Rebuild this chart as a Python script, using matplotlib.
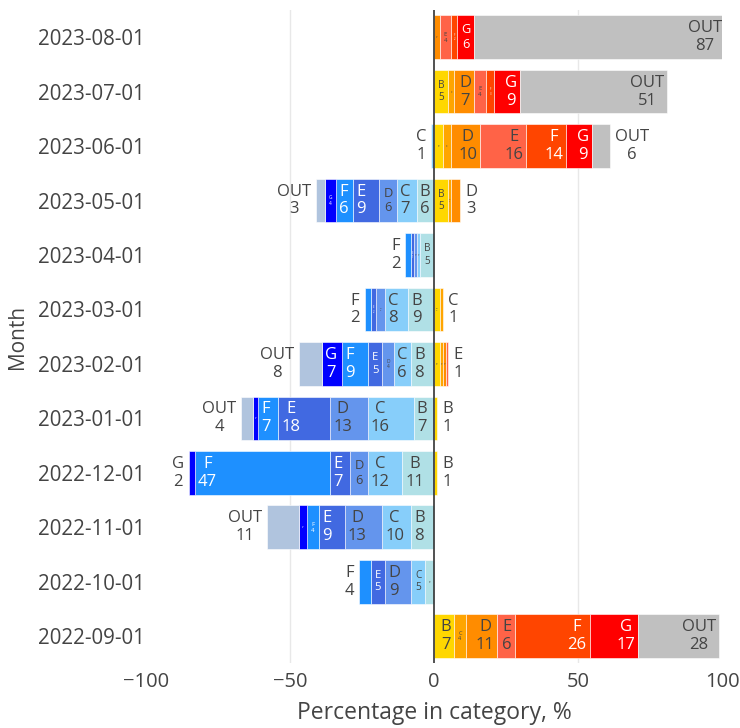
import matplotlib
matplotlib.use("Agg")
import matplotlib.pyplot as plt
import matplotlib.colors as mcolors

# ---------------- data ----------------
months = ["2022-09-01", "2022-10-01", "2022-11-01", "2022-12-01",
          "2023-01-01", "2023-02-01", "2023-03-01", "2023-04-01",
          "2023-05-01", "2023-06-01", "2023-07-01", "2023-08-01"]
categories = ["B", "C", "D", "E", "F", "G", "OUT"]

# positive side (right of zero)
pos_B   = [7, 0, 0, 1, 1, 2, 2, 0, 5, 3, 5, 0]
pos_C   = [4, 0, 0, 0, 0, 1, 1, 0, 1, 3, 2, 0]
pos_D   = [11, 0, 0, 0, 0, 1, 0, 0, 3, 10, 7, 2]
pos_E   = [6, 0, 0, 0, 0, 1, 0, 0, 0, 16, 4, 4]
pos_F   = [26, 0, 0, 0, 0, 0, 0, 0, 0, 14, 3, 2]
pos_G   = [17, 0, 0, 0, 0, 0, 0, 0, 0, 9, 9, 6]
pos_OUT = [28, 0, 0, 0, 0, 0, 0, 0, 0, 6, 51, 87]

# negative side (left of zero), magnitudes
neg_B   = [0, 3, 8, 11, 7, 8, 9, 5, 6, 0, 0, 0]
neg_C   = [0, 5, 10, 12, 16, 6, 8, 1, 7, 1, 0, 0]
neg_D   = [0, 9, 13, 6, 13, 4, 3, 1, 6, 0, 0, 0]
neg_E   = [0, 5, 9, 7, 18, 5, 2, 1, 9, 0, 0, 0]
neg_F   = [0, 4, 4, 47, 7, 9, 2, 2, 6, 0, 0, 0]
neg_G   = [0, 0, 3, 2, 2, 7, 0, 0, 4, 0, 0, 0]
neg_OUT = [0, 0, 11, 0, 4, 8, 0, 0, 3, 0, 0, 0]

pos_series = [pos_B, pos_C, pos_D, pos_E, pos_F, pos_G, pos_OUT]
neg_series = [neg_B, neg_C, neg_D, neg_E, neg_F, neg_G, neg_OUT]

pos_colors = ["#FFD700", "#FFA500", "#FF8C00", "#FF6347", "#FF4500", "#FF0000", "#C0C0C0"]
neg_colors = ["#B0E0E6", "#87CEFA", "#6495ED", "#4169E1", "#1E90FF", "#0000FF", "#B0C4DE"]

x_ticks = [-100, -50, 0, 50, 100]

# ---------------- style ----------------
FONT = "Open Sans"
plt.rcParams["font.family"] = [FONT, "DejaVu Sans"]
TXT = "#444444"
BASE = 12.0      # bar text size (pt)
PAD = 3.0        # px, placement padding
FIT_PAD = 4.0    # px, padding used when shrinking text
BAR_H = 0.8

W, H = 740, 728
fig = plt.figure(figsize=(W / 100, H / 100), dpi=100)
L, R, T, B = 146, 722, 10, 663.4
ax = fig.add_axes([L / W, (H - B) / H, (R - L) / W, (B - T) / H])
ax.set_xlim(-100, 100)
ax.set_ylim(-0.5, len(months) - 0.5)

for s in ax.spines.values():
    s.set_visible(False)
ax.set_xticks(x_ticks)
ax.set_xticklabels([f"{t}".replace("-", "\u2212") for t in x_ticks])
ax.set_yticks(range(len(months)))
ax.set_yticklabels(months)
ax.tick_params(axis="x", length=0, pad=6, labelsize=14.5, labelcolor=TXT)
ax.tick_params(axis="y", length=0, pad=1, labelsize=14.8, labelcolor=TXT)
for gx in x_ticks[1:-1]:
    if gx != 0:
        ax.axvline(gx, color="#E8E8E8", linewidth=1, zorder=0)
ax.set_xlabel("Percentage in category, %", fontsize=16.5, color=TXT, labelpad=7)
ax.set_ylabel("Month", fontsize=15, color=TXT, labelpad=7)

renderer = fig.canvas.get_renderer()
px_unit = ax.transData.transform((1, 0))[0] - ax.transData.transform((0, 0))[0]
bar_px = BAR_H * (ax.transData.transform((0, 1))[1] - ax.transData.transform((0, 0))[1])


def is_light(c):
    r, g, b = [v * 255 for v in mcolors.to_rgb(c)]
    return (r * 299 + g * 587 + b * 114) / 1000 > 128


def draw_side(series, colors, sign):
    for i in range(len(months)):
        vals = [s[i] for s in series]
        nz = [k for k, v in enumerate(vals) if v > 0]
        if not nz:
            continue
        outer = nz[-1]
        cum = 0
        for k in nz:
            v = vals[k]
            start = sign * cum
            ax.barh(i, sign * v, left=start, height=BAR_H, color=colors[k],
                    edgecolor="white", linewidth=0.4, zorder=2)
            end = sign * (cum + v)
            cum += v
            label = f"{categories[k]}\n{v}"
            t = ax.text(0, i, label, fontsize=BASE, ha="center", va="center",
                        multialignment="center", linespacing=1.15, zorder=4)
            bb = t.get_window_extent(renderer)
            tw, th = bb.width, bb.height
            t.remove()
            seg_px = v * px_unit
            availw = seg_px - 2 * PAD
            availh = bar_px - 2 * PAD
            fits = tw <= availw and th <= availh
            shrink_h = min(1.0, availh / th)
            fits_shrunk = tw * shrink_h <= availw
            if k == outer and not (fits or fits_shrunk):
                # outside the bar end
                ax.annotate(label, xy=(end, i), xytext=(sign * 5, 0),
                            textcoords="offset pixels",
                            ha="left" if sign > 0 else "right", va="center",
                            multialignment="center", linespacing=1.15,
                            fontsize=BASE, color=TXT, zorder=4,
                            annotation_clip=False)
            else:
                if fits or fits_shrunk:
                    sc = min(1.0, availw / tw, availh / th)
                    off = PAD
                else:
                    sc = min(1.0, max(seg_px - 2 * FIT_PAD, 1.5) / tw, availh / th)
                    off = max(0.5, (seg_px - tw * sc) / 2)
                col = TXT if is_light(colors[k]) else "white"
                ax.annotate(label, xy=(end, i), xytext=(-sign * off, 0),
                            textcoords="offset pixels",
                            ha="right" if sign > 0 else "left", va="center",
                            multialignment="center", linespacing=1.15,
                            fontsize=BASE * sc, color=col, zorder=4,
                            annotation_clip=False)


draw_side(pos_series, pos_colors, +1)
draw_side(neg_series, neg_colors, -1)

ax.axvline(0, color="#333333", linewidth=1.2, zorder=5)

fig.savefig("out.png", dpi=100, facecolor="white")
